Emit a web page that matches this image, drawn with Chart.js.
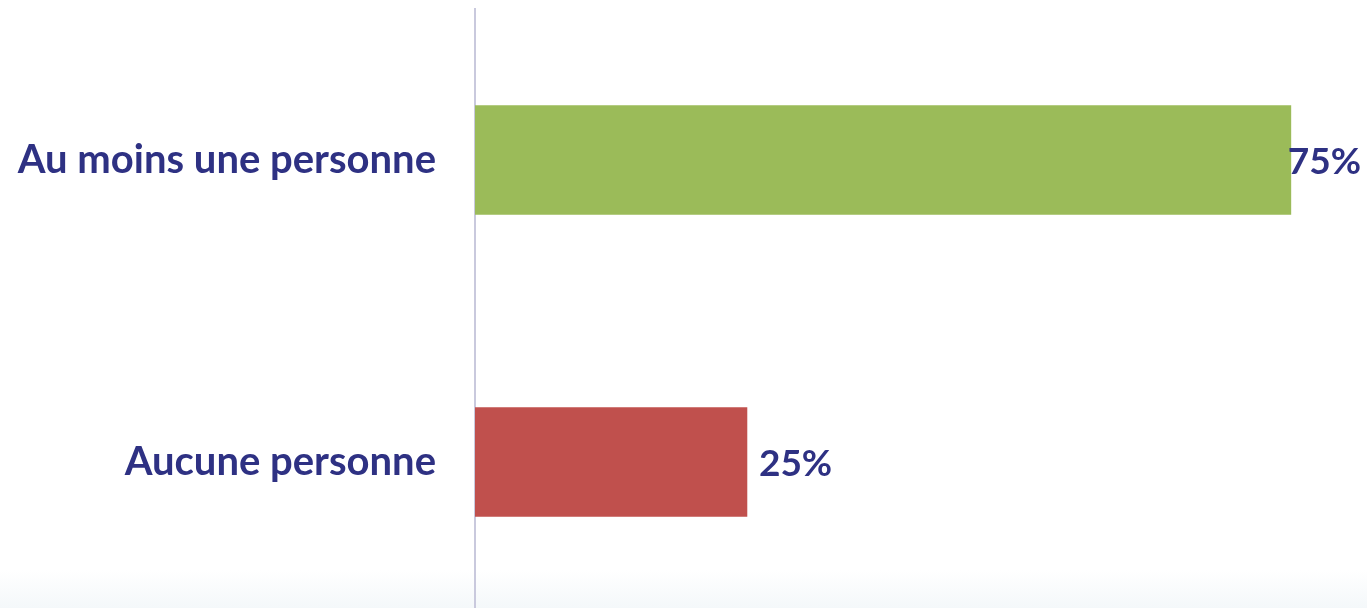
<!DOCTYPE html>
<html>
<head>
<meta charset="utf-8">
<script src="https://cdn.jsdelivr.net/npm/chart.js@4"></script>
<style>
  html, body { margin: 0; padding: 0; }
  body {
    width: 1367px; height: 608px; overflow: hidden;
    background: linear-gradient(to bottom, #ffffff 0px, #ffffff 570px, #f4f8fa 608px);
  }
  #wrap { position: relative; width: 1367px; height: 613px; }
</style>
</head>
<body>
<div id="wrap"><canvas id="chart"></canvas></div>
<script>
const categories = ['Au moins une personne', 'Aucune personne'];
const values = [75, 25];
const barColors = ['#9BBB59', '#C0504D'];

const textColor = '#2E3183';
const labelFont = { family: 'Lato', size: 40, weight: 'bold' };

const valueLabels = {
  id: 'valueLabels',
  afterDatasetsDraw(chart) {
    const ctx = chart.ctx;
    const meta = chart.getDatasetMeta(0);
    ctx.save();
    ctx.font = 'bold 37px Lato';
    ctx.fillStyle = textColor;
    ctx.textBaseline = 'middle';
    ctx.textAlign = 'left';
    meta.data.forEach((bar, i) => {
      const text = values[i] + '%';
      const w = ctx.measureText(text).width;
      let x = bar.x + 12;
      if (x + w > chart.width - 6) x = chart.width - 6 - w;
      ctx.fillText(text, x, bar.y + 2);
    });
    ctx.restore();
  }
};

new Chart(document.getElementById('chart'), {
  type: 'bar',
  data: {
    labels: categories,
    datasets: [{
      data: values,
      backgroundColor: barColors,
      borderWidth: 0,
      barThickness: 109,
    }],
  },
  options: {
    indexAxis: 'y',
    responsive: true,
    maintainAspectRatio: false,
    animation: false,
    layout: { padding: { top: 9, right: 0, bottom: 0, left: 0 } },
    plugins: {
      legend: { display: false },
      tooltip: { enabled: false },
    },
    scales: {
      x: {
        display: false,
        min: 0,
        max: 82,
      },
      y: {
        grid: { display: false, drawTicks: false },
        border: { display: true, color: '#C9C9DD', width: 2 },
        ticks: {
          color: textColor,
          font: labelFont,
          padding: 39,
        },
        afterFit(scale) {
          scale.width = 475;
          scale.paddingTop = 0;
          scale.paddingBottom = 0;
        },
      },
    },
  },
  plugins: [valueLabels],
});
</script>
</body>
</html>
